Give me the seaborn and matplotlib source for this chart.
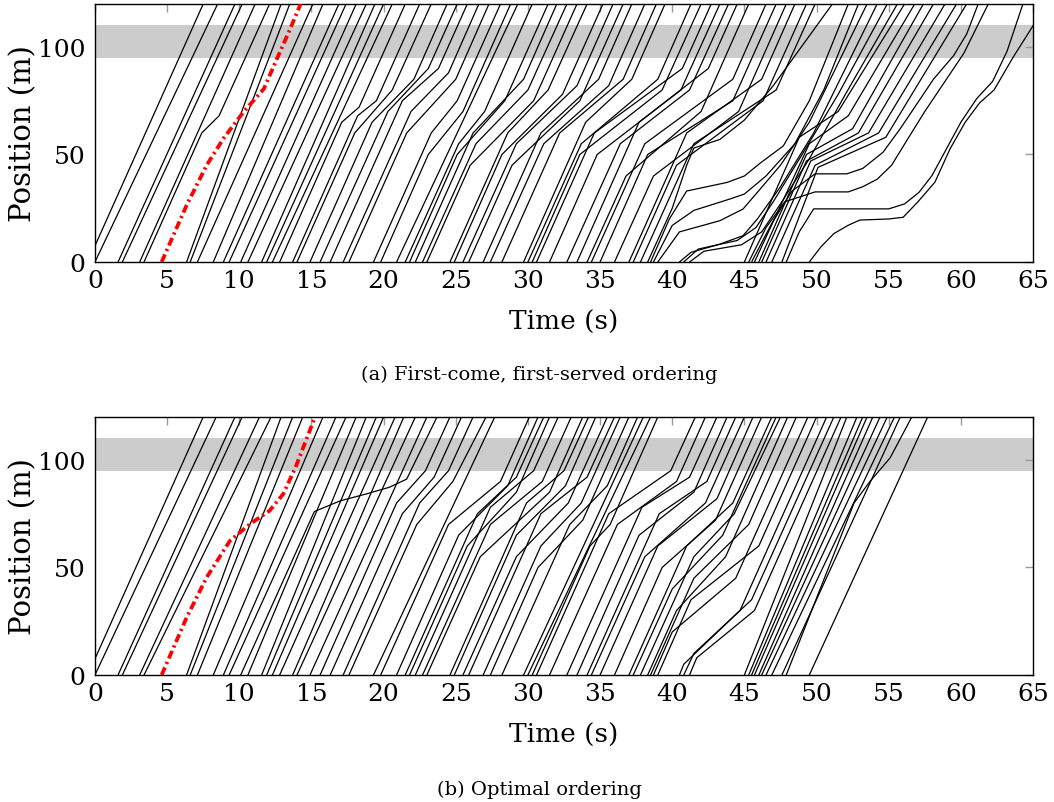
import matplotlib
matplotlib.use("Agg")
import matplotlib.pyplot as plt
import numpy as np
import pandas as pd
import seaborn as sns

# ---------------- data ----------------
# arrival time of every vehicle at position 0 m (same arrivals in both panels)
arrival_times = [-0.5, 0.0, 1.6, 1.9, 3.1, 3.4, 6.35, 6.6, 7.1, 8.2,
                 8.9, 9.3, 10.1, 10.6, 11.55, 11.9, 12.3, 12.8, 13.7, 14.0,
                 14.9, 15.6, 16.3, 17.2, 17.6, 19.3, 19.8, 20.9, 21.5, 21.8,
                 22.2, 22.7, 23.0, 24.6, 24.9, 25.5, 25.9, 26.9, 27.4, 28.2,
                 29.7, 30.0, 30.3, 30.6, 31.5, 32.7, 33.4, 34.1, 34.4, 35.0,
                 36.0, 37.0, 37.3, 37.8, 38.3, 38.5, 38.7, 39.0, 40.5, 40.8,
                 41.2, 45.0, 45.3, 45.5, 45.7, 46.0, 46.2, 46.5, 46.9, 47.6,
                 47.9, 49.5]

# time each vehicle reaches 120 m, first-come first-served
fcfs_exit_times = [7.5, 8.5, 9.7, 10.2, 11.1, 12.1, 12.9, 13.5, 15.1, 15.8,
                   16.9, 17.4, 18.1, 18.8, 19.4, 20.0, 20.6, 21.5, 22.5, 23.3,
                   24.4, 25.1, 25.8, 26.6, 27.3, 28.1, 28.8, 29.3, 30.3, 31.4,
                   32.0, 32.7, 33.4, 34.1, 35.2, 35.9, 36.6, 37.2, 38.1, 38.9,
                   39.5, 41.3, 42.0, 42.7, 43.3, 43.9, 44.5, 45.3, 46.5, 47.2,
                   47.9, 48.5, 49.3, 49.9, 51.1, 52.2, 52.9, 53.5, 54.2, 54.9,
                   55.6, 56.1, 61.9, 61.2, 56.8, 57.4, 58.1, 58.9, 59.7, 60.4,
                   64.3, 66.0]

# intermediate (time, position) points of slowed vehicles, FCFS (vehicle number from 1)
fcfs_via = {
    6: [(7.4, 60), (8.6, 68)],
    18: [(17.1, 65), (18.3, 72)],
    19: [(18.2, 68), (19.5, 75)],
    20: [(18.0, 60), (20.6, 80)],
    21: [(19.2, 65), (22.1, 85)],
    22: [(20.3, 70), (23.1, 90)],
    23: [(21.3, 75), (23.8, 90)],
    24: [(21.9, 70), (24.5, 88)],
    25: [(21.6, 60), (25.0, 85)],
    26: [(23.3, 60), (25.1, 75)],
    27: [(23.1, 50), (25.5, 70)],
    29: [(25.2, 55), (27.0, 70)],
    30: [(25.1, 50), (28.4, 75)],
    31: [(26.2, 60), (29.7, 85)],
    32: [(26.4, 55), (30.0, 80)],
    33: [(26.0, 45), (30.4, 75)],
    34: [(28.6, 60), (31.4, 80)],
    35: [(28.2, 50), (32.4, 78)],
    36: [(29.2, 55), (33.4, 82)],
    37: [(28.9, 45), (33.6, 75)],
    38: [(30.9, 60), (34.9, 85)],
    39: [(31.1, 55), (35.6, 82)],
    40: [(32.2, 60), (36.6, 85)],
    41: [(34.0, 65), (37.2, 85)],
    42: [(33.7, 55), (39.0, 85)],
    43: [(33.6, 50), (39.3, 80)],
    44: [(34.6, 60), (40.7, 90)],
    45: [(34.8, 50), (40.6, 80)],
    46: [(36.4, 55), (41.2, 80)],
    47: [(37.7, 65), (42.5, 90)],
    48: [(36.8, 40), (42.0, 70)],
    49: [(38.1, 55), (44.2, 85)],
    50: [(38.3, 50), (44.2, 75)],
    51: [(38.7, 40), (44.6, 70)],
    52: [(41.0, 60), (46.2, 85)],
    53: [(40.3, 45), (46.3, 75)],
    54: [(41.5, 55), (47.2, 80)],
    55: [(40.0, 25), (41.0, 45), (41.5, 53), (43.3, 57), (45.0, 66), (47.0, 82)],
    56: [(39.8, 20), (41.0, 33), (43.8, 37), (45.0, 40), (46.1, 46), (47.7, 54), (49.5, 75)],
    57: [(40.0, 17), (41.5, 24), (44.0, 29.3), (45.0, 31.6), (46.5, 40), (48.5, 55), (50.5, 80)],
    58: [(40.5, 14), (43.3, 19.2), (44.9, 24.6), (45.9, 32.4), (47.5, 45), (49.5, 65)],
    59: [(41.3, 4.5), (43.3, 8.3), (44.9, 12.2), (45.9, 20), (47.5, 35), (49.8, 60)],
    60: [(41.8, 6), (44.5, 10), (45.8, 16), (47.0, 28), (49.0, 50), (51.5, 78)],
    61: [(42.2, 5), (44.8, 8), (46.2, 14), (47.5, 27), (49.5, 48), (52.0, 78)],
    62: [(48.8, 58), (51.5, 70)],
    63: [(46.5, 16), (47.8, 28), (49.9, 32.6), (52.2, 32.6), (53.2, 35), (54.2, 38.5),
         (55.2, 45), (56.3, 57), (57.5, 70), (58.8, 83), (60.2, 97)],
    64: [(46.9, 18), (48.3, 33), (49.9, 41), (52.1, 41), (53.2, 43.5), (54.6, 51),
         (55.8, 62), (57.0, 74), (58.1, 85), (59.5, 96), (60.4, 106)],
    65: [(49.5, 55), (52.2, 68)],
    66: [(49.3, 50), (52.5, 62)],
    67: [(49.3, 47), (52.9, 60)],
    68: [(49.6, 47), (53.6, 60)],
    69: [(49.9, 45), (54.3, 60)],
    70: [(50.1, 44), (54.8, 58)],
    71: [(48.8, 14), (49.8, 24.7), (55.0, 24.7), (56.1, 27), (57.1, 32.4), (58.0, 40.2),
         (59.0, 52.6), (60.0, 65), (61.1, 76), (62.2, 84), (63.2, 98)],
    72: [(50.3, 7), (51.2, 13.2), (52.2, 17.1), (53.0, 19.5), (55.0, 20), (56.0, 20.8),
         (57.0, 27.8), (58.2, 37.1), (59.25, 52.6), (60.3, 65), (61.3, 74), (62.3, 80),
         (63.6, 95), (65.2, 112)],
}

# time each vehicle reaches 120 m, optimal ordering
optimal_exit_times = [7.5, 8.4, 9.7, 10.2, 11.4, 12.2, 12.9, 13.7, 14.4, 15.8,
                      16.7, 17.4, 23.7, 18.1, 18.8, 19.5, 20.0, 20.8, 21.4, 22.2,
                      23.0, 24.6, 25.4, 26.2, 27.1, 27.7, 30.1, 30.7, 31.1, 31.5,
                      32.1, 33.0, 33.8, 34.2, 34.7, 35.5, 36.0, 36.4, 37.0, 37.6,
                      38.0, 38.5, 39.0, 41.6, 42.3, 43.1, 43.8, 44.4, 45.0, 45.6,
                      46.2, 46.9, 47.2, 47.5, 48.0, 48.6, 49.4, 50.0, 50.7, 51.2,
                      51.7, 52.1, 52.8, 53.2, 53.5, 53.9, 54.4, 54.9, 55.4, 55.8,
                      56.6, 57.7]

optimal_via = {
    13: [(15.2, 76), (17.0, 81), (18.8, 84.2), (20.4, 87.3), (21.6, 91.1)],
    22: [(20.9, 80), (22.9, 95)],
    23: [(21.3, 75), (23.5, 92)],
    24: [(22.5, 80), (24.5, 95)],
    25: [(22.3, 70), (24.8, 90)],
    27: [(24.5, 70), (28.1, 90)],
    28: [(25.2, 65), (28.6, 88)],
    29: [(26.5, 75), (29.2, 92)],
    30: [(25.8, 60), (29.2, 85)],
    31: [(27.4, 78), (30.4, 95)],
    32: [(27.4, 70), (31.0, 90)],
    33: [(26.7, 55), (31.5, 85)],
    34: [(29.9, 80), (32.5, 95)],
    35: [(29.2, 65), (32.6, 88)],
    36: [(29.2, 55), (32.8, 80)],
    37: [(30.9, 75), (34.1, 92)],
    38: [(30.9, 60), (33.7, 80)],
    39: [(30.7, 50), (33.8, 72)],
    40: [(32.9, 70), (35.5, 88)],
    43: [(34.3, 60), (35.7, 70)],
    44: [(35.6, 75), (39.9, 95)],
    45: [(36.2, 70), (40.3, 90)],
    46: [(37.9, 78), (41.2, 92)],
    47: [(37.7, 65), (41.5, 85)],
    48: [(39.1, 75), (42.4, 90)],
    49: [(38.1, 55), (42.3, 80)],
    50: [(39.0, 60), (43.1, 82)],
    51: [(39.3, 50), (43.0, 72)],
    52: [(41.0, 60), (44.2, 80)],
    53: [(40.0, 40), (43.5, 65)],
    54: [(41.5, 55), (44.3, 75)],
    55: [(40.3, 30), (43.7, 55)],
    56: [(41.5, 45), (45.3, 70)],
    57: [(40.0, 20), (44.4, 45)],
    58: [(41.3, 35), (46.0, 60)],
    59: [(40.8, 5), (44.7, 30)],
    60: [(41.5, 10), (45.5, 35)],
    61: [(41.7, 8), (45.7, 30)],
    71: [(52.6, 80), (53.7, 90), (55.1, 101)],
}

# highlighted vehicle (red)
red_fcfs_t = [4.62, 6.35, 7.74, 8.9, 10.28, 11.7, 12.6, 13.5, 14.25]
red_fcfs_y = [0, 26.4, 45, 57.4, 69.7, 80.5, 94.4, 108, 120]
red_opt_t = [4.62, 6.35, 7.74, 9.35, 10.74, 12.1, 13.05, 13.9, 15.25]
red_opt_y = [0, 26.7, 45.4, 62.4, 70.2, 76.4, 84.2, 96.6, 120]

zone_low, zone_high = 95, 110
x_ticks = list(range(0, 70, 5))
y_ticks = [0, 50, 100]
captions = ["(a) First-come, first-served ordering", "(b) Optimal ordering"]


def build_frame(exits, via):
    rows = []
    for i, (t0, t1) in enumerate(zip(arrival_times, exits), start=1):
        pts = [(t0, 0.0)] + via.get(i, []) + [(t1, 120.0)]
        for k, (t, y) in enumerate(pts):
            rows.append({"vehicle": i, "order": k, "t": t, "y": y})
    return pd.DataFrame(rows)


sns.set_theme(style="white")
plt.rcParams["font.family"] = ["DejaVu Serif"]
plt.rcParams["text.color"] = "black"
plt.rcParams["axes.labelcolor"] = "black"

fig = plt.figure(figsize=(10.54, 8.03), dpi=100)
ax_a = fig.add_axes([0.0901, 0.6725, 0.890, 0.3213])
ax_b = fig.add_axes([0.0901, 0.1582, 0.890, 0.3213])

panels = [
    (ax_a, build_frame(fcfs_exit_times, fcfs_via), red_fcfs_t, red_fcfs_y, 0.533),
    (ax_b, build_frame(optimal_exit_times, optimal_via), red_opt_t, red_opt_y, 0.016),
]

for (ax, df, rt, ry, cap_y), cap in zip(panels, captions):
    ax.axhspan(zone_low, zone_high, color="#cccccc", lw=0, zorder=0)
    sns.lineplot(data=df, x="t", y="y", units="vehicle", estimator=None, sort=False,
                 color="black", linewidth=0.9, ax=ax, legend=False, zorder=2)
    red = pd.DataFrame({"t": rt, "y": ry})
    sns.lineplot(data=red, x="t", y="y", sort=False, estimator=None, color="red",
                 linewidth=2.7, ax=ax, legend=False, zorder=3)
    ax.lines[-1].set_linestyle((0, (2.2, 1.0, 0.6, 1.0)))
    ax.set_xlim(0, 65)
    ax.set_ylim(0, 120)
    ax.set_xticks(x_ticks)
    ax.set_yticks(y_ticks)
    ax.tick_params(direction="in", top=True, right=True, length=6, width=1.0,
                   color="#9a9a9a", labelsize=18, labelcolor="black")
    ax.tick_params(axis="x", pad=5)
    ax.tick_params(axis="y", pad=7)
    for s in ax.spines.values():
        s.set_color("black")
        s.set_linewidth(1.0)
    ax.set_xlabel("Time (s)", fontsize=19, labelpad=12, color="black")
    ax.set_ylabel("Position (m)", fontsize=21, labelpad=0, color="black")
    fig.text(0.512, cap_y, cap, ha="center", va="center", fontsize=14, color="black")

fig.savefig("out.png", dpi=100)
